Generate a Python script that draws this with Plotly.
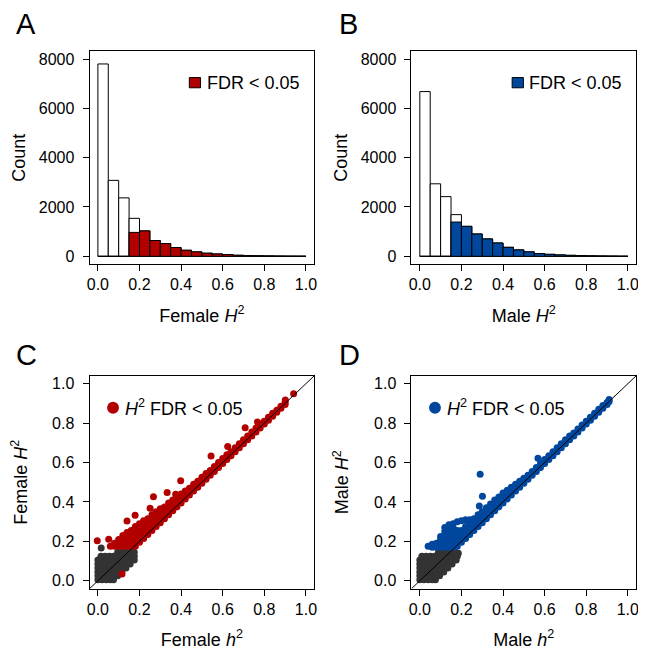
import plotly.graph_objects as go

# ---- histogram data (20 bins of width 0.05) ----
bin_mid = [0.025, 0.075, 0.125, 0.175, 0.225, 0.275, 0.325, 0.375, 0.425, 0.475,
           0.525, 0.575, 0.625, 0.675, 0.725, 0.775, 0.825, 0.875, 0.925, 0.975]
fem_all = [7800, 3080, 2370, 1540, 1030, 640, 515, 355, 245, 180,
           125, 95, 70, 42, 30, 20, 14, 9, 5, 3]
fem_sig = [0, 0, 0, 970, 1030, 640, 515, 355, 245, 180,
           125, 95, 70, 42, 30, 20, 14, 9, 5, 3]
male_all = [6680, 2940, 2420, 1690, 1215, 905, 705, 540, 365, 260,
            180, 110, 80, 57, 40, 28, 18, 12, 7, 3]
male_sig = [0, 0, 0, 1390, 1215, 905, 705, 540, 365, 260,
            180, 110, 80, 57, 40, 28, 18, 12, 7, 3]

# ---- scatter data: (h2, H2) ----
fem_ns = [
    (0.0, 0.005), (0.02, 0.005), (0.04, 0.005), (0.06, 0.005), (0.075, 0.005),
    (0.0, 0.025), (0.02, 0.025), (0.04, 0.025), (0.06, 0.025), (0.08, 0.025), (0.095, 0.025),
    (0.0, 0.045), (0.02, 0.045), (0.04, 0.045), (0.06, 0.045), (0.08, 0.045), (0.10, 0.045), (0.115, 0.045),
    (0.0, 0.065), (0.02, 0.065), (0.04, 0.065), (0.06, 0.065), (0.08, 0.065), (0.10, 0.065), (0.12, 0.065), (0.135, 0.065),
    (0.0, 0.085), (0.02, 0.085), (0.04, 0.085), (0.06, 0.085), (0.08, 0.085), (0.10, 0.085), (0.12, 0.085), (0.14, 0.085), (0.155, 0.085),
    (0.0, 0.105), (0.02, 0.105), (0.04, 0.105), (0.06, 0.105), (0.08, 0.105), (0.10, 0.105), (0.12, 0.105), (0.14, 0.105), (0.16, 0.105), (0.175, 0.105),
    (0.015, 0.125), (0.035, 0.125), (0.055, 0.125), (0.075, 0.125), (0.095, 0.125), (0.115, 0.125), (0.135, 0.125), (0.155, 0.125), (0.175, 0.125),
    (0.095, 0.145), (0.115, 0.145), (0.135, 0.145), (0.155, 0.145), (0.175, 0.145),
    (0.016, 0.166),
]
fem_sig_pts = [
    (0.06, 0.175),
    (0.08, 0.175), (0.08, 0.19),
    (0.10, 0.175), (0.10, 0.195), (0.10, 0.21),
    (0.12, 0.175), (0.12, 0.195), (0.12, 0.215), (0.12, 0.23),
    (0.14, 0.175), (0.14, 0.195), (0.14, 0.215), (0.14, 0.235), (0.14, 0.245),
    (0.16, 0.175), (0.16, 0.195), (0.16, 0.215), (0.16, 0.235), (0.16, 0.255),
    (0.18, 0.175), (0.18, 0.195), (0.18, 0.215), (0.18, 0.235), (0.18, 0.255), (0.18, 0.275),
    (0.20, 0.195), (0.20, 0.215), (0.20, 0.235), (0.20, 0.255), (0.20, 0.275), (0.20, 0.29),
    (0.22, 0.215), (0.22, 0.235), (0.22, 0.255), (0.22, 0.275), (0.22, 0.295), (0.22, 0.305),
    (0.24, 0.235), (0.24, 0.255), (0.24, 0.275), (0.24, 0.295), (0.24, 0.315),
    (0.26, 0.255), (0.26, 0.275), (0.26, 0.295), (0.26, 0.315), (0.26, 0.335),
    (0.28, 0.275), (0.28, 0.295), (0.28, 0.315), (0.28, 0.335), (0.28, 0.35),
    (0.30, 0.295), (0.30, 0.315), (0.30, 0.335), (0.30, 0.355), (0.30, 0.365),
    (0.32, 0.315), (0.32, 0.335), (0.32, 0.355), (0.32, 0.375),
    (0.34, 0.335), (0.34, 0.355), (0.34, 0.375), (0.34, 0.395),
    (0.36, 0.355), (0.36, 0.375), (0.36, 0.395), (0.36, 0.41),
    (0.38, 0.375), (0.38, 0.395), (0.38, 0.415), (0.38, 0.425),
    (0.40, 0.395), (0.40, 0.415), (0.40, 0.435), (0.40, 0.44),
    (0.42, 0.415), (0.42, 0.435), (0.42, 0.455),
    (0.44, 0.435), (0.44, 0.455), (0.44, 0.47),
    (0.46, 0.455), (0.46, 0.475), (0.46, 0.49),
    (0.48, 0.475), (0.48, 0.495), (0.48, 0.505),
    (0.50, 0.495), (0.50, 0.515), (0.50, 0.525),
    (0.52, 0.515), (0.52, 0.535), (0.52, 0.545),
    (0.54, 0.535), (0.54, 0.555), (0.54, 0.56),
    (0.56, 0.555), (0.56, 0.575), (0.56, 0.58),
    (0.58, 0.575), (0.58, 0.60),
    (0.60, 0.595), (0.60, 0.62),
    (0.62, 0.615), (0.62, 0.64),
    (0.64, 0.635), (0.64, 0.655),
    (0.66, 0.655), (0.66, 0.675),
    (0.68, 0.675), (0.68, 0.695),
    (0.70, 0.695), (0.70, 0.715),
    (0.72, 0.715), (0.72, 0.735),
    (0.74, 0.735), (0.74, 0.755),
    (0.76, 0.755), (0.76, 0.775),
    (0.78, 0.775), (0.78, 0.795),
    (0.80, 0.795), (0.80, 0.81),
    (0.82, 0.815), (0.82, 0.83),
    (0.84, 0.835), (0.84, 0.85),
    (0.86, 0.855), (0.86, 0.865),
    (0.88, 0.875), (0.88, 0.885),
    (0.90, 0.895), (0.90, 0.905),
    # scattered outliers
    (-0.003, 0.203), (0.052, 0.211), (0.14, 0.304), (0.179, 0.333), (0.251, 0.368),
    (0.267, 0.426), (0.333, 0.448), (0.374, 0.439), (0.398, 0.507), (0.544, 0.633),
    (0.624, 0.681), (0.708, 0.777), (0.767, 0.806), (0.901, 0.917), (0.941, 0.949),
    (0.116, 0.034),
]

male_ns = [
    (0.0, 0.005), (0.02, 0.005), (0.04, 0.005), (0.06, 0.005), (0.075, 0.005),
    (0.0, 0.025), (0.02, 0.025), (0.04, 0.025), (0.06, 0.025), (0.08, 0.025), (0.095, 0.025),
    (0.0, 0.045), (0.02, 0.045), (0.04, 0.045), (0.06, 0.045), (0.08, 0.045), (0.10, 0.045), (0.115, 0.045),
    (0.0, 0.065), (0.02, 0.065), (0.04, 0.065), (0.06, 0.065), (0.08, 0.065), (0.10, 0.065), (0.12, 0.065), (0.135, 0.065),
    (0.0, 0.085), (0.02, 0.085), (0.04, 0.085), (0.06, 0.085), (0.08, 0.085), (0.10, 0.085), (0.12, 0.085), (0.14, 0.085), (0.155, 0.085),
    (0.0, 0.105), (0.02, 0.105), (0.04, 0.105), (0.06, 0.105), (0.08, 0.105), (0.10, 0.105), (0.12, 0.105), (0.14, 0.105), (0.16, 0.105), (0.175, 0.105),
    (0.01, 0.125), (0.03, 0.125), (0.05, 0.125), (0.07, 0.125), (0.09, 0.125), (0.11, 0.125), (0.13, 0.125), (0.15, 0.125), (0.17, 0.125), (0.18, 0.125),
    (0.09, 0.145), (0.11, 0.145), (0.13, 0.145), (0.15, 0.145), (0.17, 0.145), (0.185, 0.14),
]
male_sig_pts = [
    (0.04, 0.175),
    (0.06, 0.17), (0.06, 0.185),
    (0.08, 0.17), (0.08, 0.19),
    (0.10, 0.17), (0.10, 0.19), (0.10, 0.21), (0.10, 0.225),
    (0.12, 0.17), (0.12, 0.19), (0.12, 0.21), (0.12, 0.23), (0.12, 0.25), (0.12, 0.27),
    (0.14, 0.17), (0.14, 0.19), (0.14, 0.21), (0.14, 0.23), (0.14, 0.25), (0.14, 0.27), (0.14, 0.285),
    (0.16, 0.17), (0.16, 0.19), (0.16, 0.21), (0.16, 0.23), (0.16, 0.25), (0.16, 0.27), (0.16, 0.29),
    (0.18, 0.175), (0.18, 0.195), (0.18, 0.215), (0.18, 0.235), (0.18, 0.255), (0.18, 0.30),
    (0.20, 0.195), (0.20, 0.215), (0.20, 0.235), (0.20, 0.255), (0.20, 0.305),
    (0.22, 0.215), (0.22, 0.235), (0.22, 0.255), (0.22, 0.275), (0.22, 0.31),
    (0.24, 0.235), (0.24, 0.255), (0.24, 0.275), (0.24, 0.295), (0.24, 0.31),
    (0.26, 0.255), (0.26, 0.275), (0.26, 0.295), (0.26, 0.315),
    (0.28, 0.275), (0.28, 0.295), (0.28, 0.315), (0.28, 0.335),
    (0.30, 0.295), (0.30, 0.315), (0.30, 0.335), (0.30, 0.35),
    (0.32, 0.315), (0.32, 0.335), (0.32, 0.355), (0.32, 0.37),
    (0.34, 0.335), (0.34, 0.355), (0.34, 0.375), (0.34, 0.39),
    (0.36, 0.355), (0.36, 0.375), (0.36, 0.395), (0.36, 0.41),
    (0.38, 0.375), (0.38, 0.395), (0.38, 0.415), (0.38, 0.425),
    (0.40, 0.395), (0.40, 0.415), (0.40, 0.435), (0.40, 0.445),
    (0.42, 0.415), (0.42, 0.435), (0.42, 0.46),
    (0.44, 0.435), (0.44, 0.455), (0.44, 0.475),
    (0.46, 0.455), (0.46, 0.475), (0.46, 0.49),
    (0.48, 0.475), (0.48, 0.495), (0.48, 0.505),
    (0.50, 0.495), (0.50, 0.515), (0.50, 0.52),
    (0.52, 0.515), (0.52, 0.535),
    (0.54, 0.535), (0.54, 0.555),
    (0.56, 0.555), (0.56, 0.575),
    (0.58, 0.575), (0.58, 0.595),
    (0.60, 0.595), (0.60, 0.615),
    (0.62, 0.615), (0.62, 0.635),
    (0.64, 0.635), (0.64, 0.655),
    (0.66, 0.655), (0.66, 0.675),
    (0.68, 0.675), (0.68, 0.695),
    (0.70, 0.695), (0.70, 0.715),
    (0.72, 0.715), (0.72, 0.735),
    (0.74, 0.735), (0.74, 0.75),
    (0.76, 0.755), (0.76, 0.77),
    (0.78, 0.775), (0.78, 0.79),
    (0.80, 0.795), (0.80, 0.81),
    (0.82, 0.815), (0.82, 0.83),
    (0.84, 0.835), (0.84, 0.85),
    (0.86, 0.855), (0.86, 0.87),
    (0.88, 0.875), (0.88, 0.89),
    (0.90, 0.895), (0.90, 0.905),
    (0.91, 0.91), (0.91, 0.92),
    # scattered outliers
    (0.29, 0.541), (0.301, 0.429), (0.286, 0.379), (0.568, 0.622),
]

font = "Liberation Sans, Arial, sans-serif"
red = "#B20000"
blue = "#00479D"
dark = "#333333"

fig = go.Figure()

# histograms: all genes in white, FDR < 0.05 part coloured on top
for xa, ya, tot, sig, col in [("x", "y", fem_all, fem_sig, red), ("x2", "y2", male_all, male_sig, blue)]:
    fig.add_trace(go.Bar(x=bin_mid, y=tot, width=0.05, xaxis=xa, yaxis=ya, showlegend=False,
                         marker=dict(color="white", line=dict(color="black", width=1))))
    fig.add_trace(go.Bar(x=bin_mid, y=sig, width=0.05, xaxis=xa, yaxis=ya, showlegend=False,
                         marker=dict(color=col, line=dict(color="black", width=1))))

# scatters
for xa, ya, ns, sg, col in [("x3", "y3", fem_ns, fem_sig_pts, red), ("x4", "y4", male_ns, male_sig_pts, blue)]:
    fig.add_trace(go.Scatter(x=[p[0] for p in ns], y=[p[1] for p in ns], mode="markers",
                             xaxis=xa, yaxis=ya, showlegend=False,
                             marker=dict(color=dark, size=7, line=dict(width=0))))
    fig.add_trace(go.Scatter(x=[p[0] for p in sg], y=[p[1] for p in sg], mode="markers",
                             xaxis=xa, yaxis=ya, showlegend=False,
                             marker=dict(color=col, size=7, line=dict(width=0))))

# page body has an 8px margin, so the figure is 638x642
W, H = 638, 642
xdom_l = [0.1243, 0.4798]
xdom_r = [0.6337, 0.9892]
ydom_t = [0.6003, 0.9327]
ydom_b = [0.0941, 0.4262]

tick_font = dict(family=font, size=16, color="black")
title_font = dict(family=font, size=18, color="black")

def xax(dom, anchor, title):
    return dict(domain=dom, anchor=anchor, range=[-0.04, 1.04], tickvals=[0, 0.2, 0.4, 0.6, 0.8, 1.0],
                tickformat=".1f", ticks="outside", ticklen=6, tickcolor="black", showline=True,
                linecolor="black", linewidth=1, mirror=True, showgrid=False, zeroline=False,
                tickfont=tick_font, title=dict(text=title, font=title_font, standoff=16))

def yax(dom, anchor, title, rng, vals, fmt, standoff):
    return dict(domain=dom, anchor=anchor, range=rng, tickvals=vals, tickformat=fmt,
                ticks="outside", ticklen=6, tickcolor="black", showline=True,
                linecolor="black", linewidth=1, mirror=True, showgrid=False, zeroline=False,
                ticklabelstandoff=5,
                tickfont=tick_font, title=dict(text=title, font=title_font, standoff=standoff))

hist_vals = [0, 2000, 4000, 6000, 8000]
sc_vals = [0, 0.2, 0.4, 0.6, 0.8, 1.0]

fig.update_layout(
    width=W, height=H,
    margin=dict(l=0, r=0, t=0, b=0),
    paper_bgcolor="white", plot_bgcolor="white",
    barmode="overlay",
    font=dict(family=font, color="black"),
    xaxis=xax(xdom_l, "y", "Female <i>H</i><sup>2</sup>"),
    xaxis2=xax(xdom_r, "y2", "Male <i>H</i><sup>2</sup>"),
    xaxis3=xax(xdom_l, "y3", "Female <i>h</i><sup>2</sup>"),
    xaxis4=xax(xdom_r, "y4", "Male <i>h</i><sup>2</sup>"),
    yaxis=yax(ydom_t, "x", "Count", [-320, 8320], hist_vals, "d", 8),
    yaxis2=yax(ydom_t, "x2", "Count", [-320, 8320], hist_vals, "d", 8),
    yaxis3=yax(ydom_b, "x3", "Female <i>H</i><sup>2</sup>", [-0.04, 1.04], sc_vals, ".1f", 20),
    yaxis4=yax(ydom_b, "x4", "Male <i>H</i><sup>2</sup>", [-0.04, 1.04], sc_vals, ".1f", 20),
)

shapes = []
annotations = []
# diagonal y = x lines
for xa, ya in [("x3", "y3"), ("x4", "y4")]:
    shapes.append(dict(type="line", xref=xa, yref=ya, x0=-0.04, y0=-0.04, x1=1.04, y1=1.04,
                       line=dict(color="black", width=1), layer="above"))

# legends for histograms
for xa, ya, col, x0 in [("x", "y", red, 0.444), ("x2", "y2", blue, 0.448)]:
    shapes.append(dict(type="rect", xref=xa + " domain", yref=ya + " domain",
                       x0=x0, x1=x0 + 0.05, y0=0.828, y1=0.876,
                       fillcolor=col, line=dict(color="black", width=1)))
    annotations.append(dict(xref=xa + " domain", yref=ya + " domain", x=x0 + 0.068, y=0.852,
                            text="FDR &lt; 0.05", showarrow=False, xanchor="left", yanchor="middle",
                            font=dict(family=font, size=18, color="black")))

# legends for scatters
for xa, ya, col in [("x3", "y3", red), ("x4", "y4", blue)]:
    shapes.append(dict(type="circle", xref=xa + " domain", yref=ya + " domain",
                       x0=0.1045 - 0.0265, x1=0.1045 + 0.0265, y0=0.850 - 0.0281, y1=0.850 + 0.0281,
                       fillcolor=col, line=dict(width=0)))
    annotations.append(dict(xref=xa + " domain", yref=ya + " domain", x=0.150, y=0.850,
                            text="<i>H</i><sup>2</sup> FDR &lt; 0.05", showarrow=False,
                            xanchor="left", yanchor="middle",
                            font=dict(family=font, size=18, color="black")))

# panel letters
for letter, px, py in [("A", 11, 24), ("B", 337, 24), ("C", 11, 356), ("D", 337, 356)]:
    annotations.append(dict(xref="paper", yref="paper", x=(px - 8) / W, y=1 - (py - 8) / H, text=letter,
                            showarrow=False, xanchor="left", yanchor="middle",
                            font=dict(family=font, size=29, color="black")))

fig.update_layout(shapes=shapes, annotations=annotations)

fig.write_html("out.html")
